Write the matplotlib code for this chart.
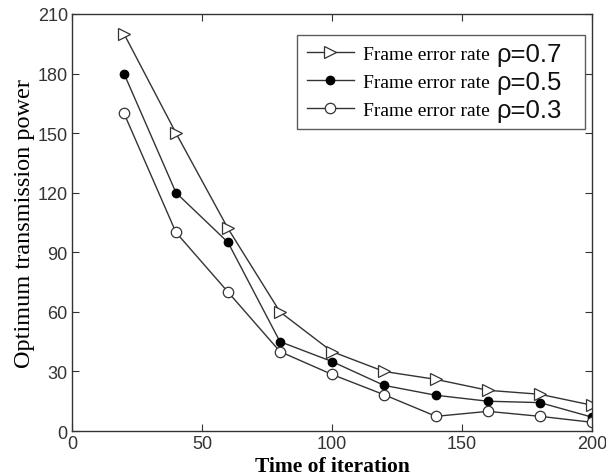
import numpy as np
import matplotlib
matplotlib.use("Agg")
import matplotlib.pyplot as plt

# data
iterations = [20, 40, 60, 80, 100, 120, 140, 160, 180, 200]
power_r07 = [200, 150, 102, 60, 40, 30, 26, 20.5, 18.5, 13]
power_r05 = [180, 120, 95, 45, 35, 23, 18, 15, 14.3, 7]
power_r03 = [160, 100, 70, 40, 28.5, 18.3, 7.4, 9.9, 7.4, 4.4]
legend_text = "Frame error rate"
rho_labels = ["\u03c1=0.7", "\u03c1=0.5", "\u03c1=0.3"]
x_ticks = [0, 50, 100, 150, 200]
y_ticks = [0, 30, 60, 90, 120, 150, 180, 210]

serif = ["Liberation Serif", "DejaVu Serif"]
sans = ["Liberation Sans", "DejaVu Sans"]
line_col = "#333333"

fig = plt.figure(figsize=(6.06, 4.77), dpi=100)
ax = fig.add_axes([0.1188, 0.0943, 0.858, 0.8743])

ax.plot(iterations, power_r07, color=line_col, lw=1.0, marker=">", ms=8,
        mfc="white", mec=line_col, mew=0.9, label=legend_text)
ax.plot(iterations, power_r05, color=line_col, lw=1.0, marker="o", ms=6,
        mfc="black", mec="black", label=legend_text)
ax.plot(iterations, power_r03, color=line_col, lw=1.0, marker="o", ms=7.5,
        mfc="white", mec=line_col, mew=0.9, label=legend_text)

ax.set_xlim(0, 200)
ax.set_ylim(0, 210)
ax.set_xticks(x_ticks)
ax.set_yticks(y_ticks)
ax.tick_params(direction="in", top=True, right=True, length=5, width=0.8,
               labelsize=13, labelcolor="#333333", colors="#333333", pad=3)
for lab in ax.get_xticklabels() + ax.get_yticklabels():
    lab.set_family(sans)
for s in ax.spines.values():
    s.set_color("#333333")
    s.set_linewidth(1.0)

ax.set_xlabel("Time of iteration", family=serif, fontsize=15.5,
              fontweight="bold", labelpad=3)
ax.set_ylabel("Optimum transmission power", family=serif, fontsize=17.5,
              labelpad=2)

# legend box stretched to the reference width; rho part drawn after the text
leg = ax.legend(loc="upper left", bbox_to_anchor=(0.4327, 0.9496, 0.5538, 0.0),
                mode="expand", prop={"family": serif, "size": 14},
                frameon=True, fancybox=False, edgecolor="#333333",
                handlelength=2.4, labelspacing=0.54, borderpad=0.52,
                handletextpad=0.45, borderaxespad=0)
leg.get_frame().set_linewidth(1.0)

fig.canvas.draw()
renderer = fig.canvas.get_renderer()
inv = fig.transFigure.inverted()
for txt, rho in zip(leg.get_texts(), rho_labels):
    bb = txt.get_window_extent(renderer)
    x0, y0 = inv.transform((bb.x1 + 7, (bb.y0 + bb.y1) / 2))
    fig.text(x0, y0, rho, family=sans, fontsize=18.5, va="center",
             ha="left", color="#111111")

fig.savefig("out.png", dpi=100)
